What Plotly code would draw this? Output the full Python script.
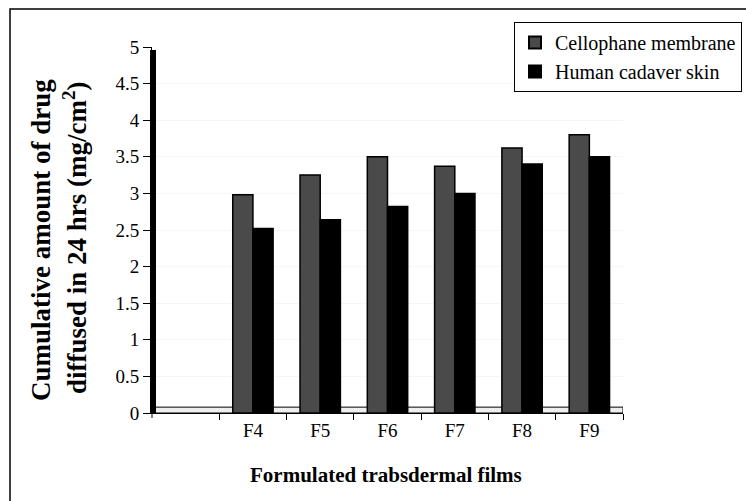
import plotly.graph_objects as go

categories = ["F4", "F5", "F6", "F7", "F8", "F9"]
cellophane = [2.98, 3.25, 3.50, 3.37, 3.62, 3.80]
cadaver = [2.52, 2.64, 2.82, 3.00, 3.40, 3.50]
y_ticks = [0, 0.5, 1, 1.5, 2, 2.5, 3, 3.5, 4, 4.5, 5]
y_tick_text = ["0", "0.5", "1", "1.5", "2", "2.5", "3", "3.5", "4", "4.5", "5"]

W, H = 746, 501
L, R, T, B = 152, 123, 47, 88
pw = W - L - R
ph = H - T - B

serif = "Liberation Serif"

fig = go.Figure()
fig.add_trace(go.Bar(
    x=categories, y=cellophane, name="Cellophane membrane",
    marker=dict(color="#4a4a4a", line=dict(color="#000000", width=1.5)),
))
fig.add_trace(go.Bar(
    x=categories, y=cadaver, name="Human cadaver skin",
    marker=dict(color="#000000", line=dict(color="#000000", width=1.5)),
))

def px_x(px):
    return (px - L) / pw

def px_y(py):
    return (H - B - py) / ph

shapes = [
    # floor
    dict(type="rect", xref="x", yref="y", x0=-1.5, x1=5.5, y0=0, y1=0.08,
         fillcolor="#eeeeee", line=dict(color="#000000", width=1), layer="below"),
    # wall
    dict(type="rect", xref="paper", yref="y", x0=px_x(150), x1=px_x(156), y0=0, y1=4.96,
         fillcolor="#000000", line=dict(width=0), layer="above"),
    # extra tick at axis origin
    dict(type="line", xref="paper", yref="paper", x0=0, x1=0, y0=0, y1=px_y(418),
         line=dict(color="#000000", width=1)),
    # outer frame
    dict(type="rect", xref="paper", yref="paper", x0=px_x(10), x1=px_x(760),
         y0=px_y(515), y1=px_y(9), line=dict(color="#000000", width=1.5),
         fillcolor="rgba(0,0,0,0)"),
]

annotations = [
    dict(text="<b>Cumulative amount of drug</b>", xref="paper", yref="paper",
         x=px_x(41), y=px_y(240), textangle=-90, showarrow=False,
         font=dict(family=serif, size=27, color="#000000"), xanchor="center", yanchor="middle"),
    dict(text="<b>diffused in 24 hrs (mg/cm<sup>2</sup>)</b>", xref="paper", yref="paper",
         x=px_x(75), y=px_y(238), textangle=-90, showarrow=False,
         font=dict(family=serif, size=27, color="#000000"), xanchor="center", yanchor="middle"),
    dict(text="<b>Formulated trabsdermal films</b>", xref="paper", yref="paper",
         x=px_x(386), y=px_y(475), showarrow=False,
         font=dict(family=serif, size=21, color="#000000"), xanchor="center", yanchor="middle"),
]

fig.update_layout(
    width=W, height=H,
    margin=dict(l=L, r=R, t=T, b=B, autoexpand=False),
    paper_bgcolor="#ffffff", plot_bgcolor="#ffffff",
    barmode="group", bargap=0.4, bargroupgap=0,
    font=dict(family=serif, size=18, color="#000000"),
    showlegend=True,
    legend=dict(x=px_x(514), y=px_y(22), xanchor="left", yanchor="top",
                bordercolor="#000000", borderwidth=1, bgcolor="#ffffff",
                font=dict(family=serif, size=20, color="#000000"),
                itemsizing="constant", tracegroupgap=0, itemwidth=30),
    shapes=shapes,
    annotations=annotations,
    xaxis=dict(type="category", categoryorder="array", categoryarray=categories,
               range=[-1.5, 5.5], showgrid=False, showline=True, linecolor="#000000",
               linewidth=1, ticks="outside", tickson="boundaries", ticklen=6,
               tickcolor="#000000", tickfont=dict(family=serif, size=19), zeroline=False),
    yaxis=dict(range=[0, 5], tickvals=y_ticks, ticktext=y_tick_text, showgrid=True,
               gridcolor="#f6f6f6", showline=True, linecolor="#000000", linewidth=1,
               ticks="outside", ticklen=8, tickcolor="#000000",
               tickfont=dict(family=serif, size=19), zeroline=False),
)

fig.write_html("out.html")
